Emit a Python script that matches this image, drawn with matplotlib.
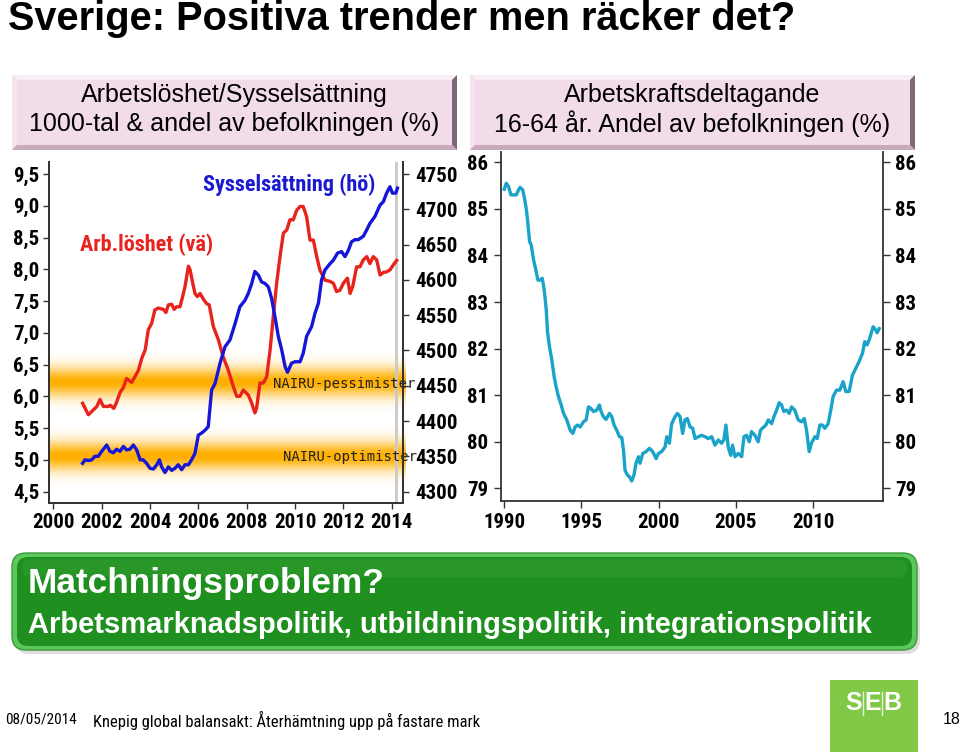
import numpy as np
import matplotlib
matplotlib.use('Agg')
import matplotlib.pyplot as plt
from matplotlib import font_manager as fm
from matplotlib.patches import Rectangle, Polygon, FancyBboxPatch

# ---------------- data ----------------
unemp_t = [2001.21, 2001.45, 2001.8, 2001.93, 2002.07, 2002.28, 2002.35, 2002.5, 2002.6, 2002.76,
           2002.9, 2003.03, 2003.24, 2003.38, 2003.52, 2003.66, 2003.8, 2003.93, 2004.07, 2004.2,
           2004.34, 2004.55, 2004.66, 2004.76, 2004.9, 2005.0, 2005.1, 2005.24, 2005.35, 2005.45,
           2005.59, 2005.66, 2005.77, 2005.86, 2005.96, 2006.07, 2006.21, 2006.34, 2006.45, 2006.62,
           2006.83, 2007.03, 2007.24, 2007.45, 2007.59, 2007.72, 2007.86, 2008.07, 2008.21, 2008.34,
           2008.41, 2008.55, 2008.69, 2008.83, 2008.97, 2009.1, 2009.24, 2009.38, 2009.52, 2009.66,
           2009.79, 2009.93, 2010.07, 2010.21, 2010.34, 2010.48, 2010.62, 2010.76, 2010.9, 2011.03,
           2011.24, 2011.45, 2011.59, 2011.72, 2011.86, 2012.0, 2012.17, 2012.28, 2012.39, 2012.55,
           2012.69, 2012.83, 2012.97, 2013.1, 2013.24, 2013.38, 2013.52, 2013.66, 2013.79, 2013.93,
           2014.07, 2014.21]
unemp_v = [5.89, 5.71, 5.84, 5.95, 5.84, 5.84, 5.86, 5.81, 5.89, 6.06,
           6.14, 6.28, 6.22, 6.31, 6.41, 6.60, 6.73, 7.05, 7.15, 7.36,
           7.39, 7.37, 7.32, 7.44, 7.45, 7.37, 7.41, 7.41, 7.57, 7.73,
           8.05, 7.99, 7.78, 7.62, 7.57, 7.62, 7.53, 7.46, 7.44, 7.10,
           6.89, 6.62, 6.41, 6.15, 6.00, 6.00, 6.10, 6.02, 5.89, 5.74,
           5.81, 6.21, 6.21, 6.31, 6.73, 7.25, 7.78, 8.20, 8.57, 8.62,
           8.78, 8.78, 8.93, 8.99, 8.99, 8.83, 8.46, 8.46, 8.20, 7.99,
           7.83, 7.81, 7.78, 7.65, 7.67, 7.78, 7.86, 7.62, 7.73, 8.04,
           8.04, 8.15, 8.20, 8.09, 8.20, 8.15, 7.91, 7.95, 7.96, 7.99,
           8.07, 8.14]

emp_t = [2001.21, 2001.31, 2001.45, 2001.59, 2001.72, 2001.86, 2002.0, 2002.21, 2002.34, 2002.48,
         2002.62, 2002.76, 2002.9, 2003.03, 2003.17, 2003.31, 2003.45, 2003.59, 2003.72, 2003.86,
         2004.0, 2004.14, 2004.28, 2004.39, 2004.48, 2004.62, 2004.76, 2004.9, 2005.03, 2005.17,
         2005.31, 2005.45, 2005.59, 2005.72, 2005.86, 2006.0, 2006.14, 2006.28, 2006.41, 2006.55,
         2006.69, 2006.9, 2007.1, 2007.31, 2007.52, 2007.72, 2007.93, 2008.07, 2008.21, 2008.34,
         2008.48, 2008.62, 2008.76, 2008.9, 2009.03, 2009.17, 2009.31, 2009.45, 2009.59, 2009.69,
         2009.86, 2010.0, 2010.21, 2010.34, 2010.48, 2010.69, 2010.83, 2010.97, 2011.1, 2011.24,
         2011.45, 2011.59, 2011.76, 2011.93, 2012.07, 2012.21, 2012.34, 2012.48, 2012.62, 2012.83,
         2012.97, 2013.1, 2013.31, 2013.52, 2013.66, 2013.79, 2013.93, 2014.03, 2014.17, 2014.24]
emp_v = [4340, 4345, 4344, 4345, 4350, 4350, 4357, 4366, 4357, 4355,
         4360, 4357, 4364, 4359, 4360, 4366, 4359, 4345, 4345, 4340,
         4333, 4332, 4338, 4345, 4335, 4327, 4335, 4330, 4333, 4338,
         4331, 4338, 4338, 4345, 4354, 4380, 4383, 4387, 4392, 4444,
         4453, 4482, 4505, 4515, 4538, 4562, 4571, 4581, 4595, 4612,
         4607, 4597, 4595, 4590, 4574, 4548, 4520, 4501, 4477, 4469,
         4482, 4484, 4484, 4496, 4520, 4534, 4553, 4567, 4600, 4614,
         4623, 4628, 4638, 4640, 4633, 4642, 4654, 4657, 4657, 4662,
         4671, 4680, 4690, 4706, 4711, 4723, 4732, 4723, 4723, 4730]

part_t = [1990.0, 1990.13, 1990.28, 1990.43, 1990.6, 1990.78, 1990.93, 1991.03, 1991.19, 1991.31,
          1991.42, 1991.51, 1991.64, 1991.75, 1991.9, 1992.0, 1992.18, 1992.33, 1992.46, 1992.59,
          1992.72, 1992.8, 1992.93, 1993.08, 1993.23, 1993.36, 1993.51, 1993.66, 1993.84, 1994.05,
          1994.27, 1994.44, 1994.59, 1994.74, 1994.91, 1995.13, 1995.3, 1995.45, 1995.6, 1995.78,
          1995.99, 1996.16, 1996.27, 1996.42, 1996.59, 1996.81, 1996.96, 1997.11, 1997.28, 1997.46,
          1997.61, 1997.72, 1997.82, 1997.97, 1998.1, 1998.25, 1998.4, 1998.53, 1998.69, 1998.79,
          1998.97, 1999.18, 1999.4, 1999.61, 1999.83, 1999.98, 2000.19, 2000.41, 2000.52, 2000.69,
          2000.84, 2001.06, 2001.21, 2001.38, 2001.55, 2001.7, 2001.85, 2002.03, 2002.2, 2002.35,
          2002.57, 2002.78, 2003.0, 2003.21, 2003.43, 2003.64, 2003.86, 2004.07, 2004.22, 2004.35,
          2004.5, 2004.66, 2004.78, 2004.94, 2005.15, 2005.37, 2005.52, 2005.69, 2005.86, 2006.01,
          2006.23, 2006.44, 2006.59, 2006.77, 2006.94, 2007.09, 2007.31, 2007.46, 2007.63, 2007.8,
          2007.95, 2008.1, 2008.28, 2008.45, 2008.6, 2008.81, 2009.03, 2009.25, 2009.42, 2009.57,
          2009.74, 2009.89, 2010.11, 2010.26, 2010.43, 2010.6, 2010.75, 2010.97, 2011.14, 2011.29,
          2011.51, 2011.72, 2011.94, 2012.11, 2012.33, 2012.54, 2012.76, 2012.97, 2013.19, 2013.34,
          2013.49, 2013.66, 2013.88, 2014.05, 2014.14, 2014.27]
part_v = [85.42, 85.55, 85.48, 85.30, 85.30, 85.30, 85.41, 85.46, 85.41, 85.23,
          85.01, 84.76, 84.30, 84.22, 83.90, 83.76, 83.47, 83.47, 83.51, 83.26,
          82.83, 82.36, 82.04, 81.76, 81.40, 81.18, 80.97, 80.82, 80.61, 80.47,
          80.25, 80.18, 80.32, 80.36, 80.32, 80.43, 80.47, 80.75, 80.72, 80.65,
          80.68, 80.79, 80.65, 80.54, 80.48, 80.61, 80.54, 80.36, 80.25, 80.11,
          80.09, 79.82, 79.39, 79.29, 79.25, 79.16, 79.29, 79.54, 79.68, 79.54,
          79.75, 79.79, 79.86, 79.79, 79.64, 79.75, 79.79, 79.89, 80.11, 79.97,
          80.39, 80.54, 80.61, 80.54, 80.18, 80.47, 80.50, 80.32, 80.29, 80.07,
          80.11, 80.14, 80.11, 80.07, 80.11, 79.93, 80.04, 79.97, 80.04, 80.36,
          79.89, 79.71, 79.93, 79.68, 79.75, 79.68, 80.11, 80.14, 80.00, 80.22,
          80.14, 80.00, 80.25, 80.31, 80.36, 80.47, 80.39, 80.54, 80.68, 80.84,
          80.79, 80.65, 80.68, 80.61, 80.75, 80.68, 80.47, 80.43, 80.50, 80.25,
          79.79, 79.97, 80.11, 80.07, 80.36, 80.36, 80.29, 80.39, 80.68, 80.97,
          81.11, 81.11, 81.29, 81.08, 81.08, 81.43, 81.58, 81.72, 81.90, 82.15,
          82.08, 82.22, 82.47, 82.40, 82.34, 82.43]

left_yticks = [4.5, 5.0, 5.5, 6.0, 6.5, 7.0, 7.5, 8.0, 8.5, 9.0, 9.5]
left_ylabels = ['4,5', '5,0', '5,5', '6,0', '6,5', '7,0', '7,5', '8,0', '8,5', '9,0', '9,5']
right_yticks = [4300, 4350, 4400, 4450, 4500, 4550, 4600, 4650, 4700, 4750]
left_xticks = [2000, 2002, 2004, 2006, 2008, 2010, 2012, 2014]
part_yticks = [79, 80, 81, 82, 83, 84, 85, 86]
part_xticks = [1990, 1995, 2000, 2005, 2010]
nairu_pess = 6.22
nairu_opt = 5.05

# ---------------- fonts ----------------
names = {f.name for f in fm.fontManager.ttflist}
COND = 'Roboto Condensed' if 'Roboto Condensed' in names else 'DejaVu Sans'
TICKFONT = dict(family=[COND, 'DejaVu Sans'], weight='bold')
ARIAL = ['Liberation Sans', 'DejaVu Sans']

W, H = 960, 752
fig = plt.figure(figsize=(W / 100, H / 100), dpi=100)
fig.patch.set_facecolor('white')

# background / decoration axes in pixel coordinates
bg = fig.add_axes([0, 0, 1, 1], zorder=0)
bg.set_xlim(0, W)
bg.set_ylim(H, 0)
bg.axis('off')

bg.text(8, 0.5, 'Sverige: Positiva trender men räcker det?', fontsize=28.6, fontweight='bold',
        family=ARIAL, va='top', ha='left', color='black')

def bevel_box(x0, y0, x1, y1, b=5):
    main = '#f2dcea'
    bg.add_patch(Rectangle((x0, y0), x1 - x0, y1 - y0, facecolor='#d8bccd', edgecolor='none'))
    bg.add_patch(Polygon([(x0, y0), (x1, y0), (x1 - b, y0 + b), (x0 + b, y0 + b)], closed=True,
                         facecolor='#f9eef5', edgecolor='none'))
    bg.add_patch(Polygon([(x0, y0), (x0 + b, y0 + b), (x0 + b, y1 - b), (x0, y1)], closed=True,
                         facecolor='#f5e4ef', edgecolor='none'))
    bg.add_patch(Polygon([(x1, y0), (x1, y1), (x1 - b, y1 - b), (x1 - b, y0 + b)], closed=True,
                         facecolor='#7d6a76', edgecolor='none'))
    bg.add_patch(Polygon([(x0, y1), (x1, y1), (x1 - b, y1 - b), (x0 + b, y1 - b)], closed=True,
                         facecolor='#c9aabd', edgecolor='none'))
    bg.add_patch(Rectangle((x0 + b, y0 + b), x1 - x0 - 2 * b, y1 - y0 - 2 * b,
                           facecolor=main, edgecolor='none'))

bevel_box(12, 75, 457, 150)
bevel_box(470, 75, 915, 150)
HS = 18
bg.text(234.5, 95, 'Arbetslöshet/Sysselsättning', fontsize=HS, family=ARIAL, ha='center', va='center')
bg.text(234.5, 124, '1000-tal & andel av befolkningen (%)', fontsize=HS, family=ARIAL, ha='center', va='center')
bg.text(692.5, 95, 'Arbetskraftsdeltagande', fontsize=HS, family=ARIAL, ha='center', va='center')
bg.text(692.5, 124, '16-64 år. Andel av befolkningen (%)', fontsize=HS, family=ARIAL, ha='center', va='center')

# green box
bg.add_patch(FancyBboxPatch((15, 557), 905, 97, boxstyle='round,pad=0,rounding_size=14',
                            facecolor='#c8c8c8', edgecolor='none', alpha=0.6))
bg.add_patch(FancyBboxPatch((12, 553), 905, 97, boxstyle='round,pad=0,rounding_size=14',
                            facecolor='#5cc85c', edgecolor='#3a9a3a', lw=1))
bg.add_patch(FancyBboxPatch((17, 557), 895, 89, boxstyle='round,pad=0,rounding_size=11',
                            facecolor='#1f8f1f', edgecolor='none'))
bg.add_patch(FancyBboxPatch((22, 559), 885, 18, boxstyle='round,pad=0,rounding_size=8',
                            facecolor='#34a234', edgecolor='none', alpha=0.45))
bg.text(28, 583, 'Matchningsproblem?', fontsize=25.4, fontweight='bold', family=ARIAL,
        color='white', ha='left', va='center')
bg.text(28, 625, 'Arbetsmarknadspolitik, utbildningspolitik, integrationspolitik', fontsize=21,
        fontweight='bold', family=ARIAL, color='white', ha='left', va='center')

# footer
FOOT = [COND, 'Liberation Sans']
bg.text(5, 720, '08/05/2014', fontsize=11, family=FOOT, ha='left', va='center')
bg.text(93, 720, 'Knepig global balansakt: Återhämtning upp på fastare mark', fontsize=11.9,
        family=FOOT, ha='left', va='center')
bg.text(943, 720, '18', fontsize=11.5, family=ARIAL, ha='left', va='center')

# SEB logo
bg.add_patch(Rectangle((830, 680), 88, 72, facecolor='#80c846', edgecolor='none'))
for ch, xc in [('S', 854), ('E', 872.5), ('B', 892.5)]:
    bg.text(xc, 703.5, ch, fontsize=18, fontweight='bold', family=ARIAL, color='white',
            ha='center', va='center')
for xl in [863.3, 881.7]:
    bg.plot([xl, xl], [692, 715], color='#e8f6dc', lw=1)

# ---------------- left chart ----------------
ax1 = fig.add_axes([49 / W, 1 - 503 / H, 354 / W, 341 / H], zorder=2)
ax1.set_facecolor('none')
x0, x1 = 1999.82, 2014.47
yl0, yl1 = 4.32, 9.69
ax1.set_xlim(x0, x1)
ax1.set_ylim(yl0, yl1)

orange = np.array([1.0, 0.69, 0.0])
yy = np.linspace(-0.5, 0.5, 200)
alpha = np.exp(-0.5 * (yy / 0.16) ** 2)
img = np.zeros((200, 2, 4))
img[..., :3] = orange
img[..., 3] = alpha[:, None]
for c in [nairu_pess, nairu_opt]:
    ax1.imshow(img, extent=[x0, x1 + 0.1, c - 0.5, c + 0.5], aspect='auto', zorder=0.5,
               origin='lower', interpolation='bilinear', clip_on=False)
ax1.set_xlim(x0, x1)
ax1.set_ylim(yl0, yl1)

ax1.axvline(2014.2, color='#c9c9c9', lw=2, zorder=0.8)
ax1.plot(unemp_t, unemp_v, color='#e8231c', lw=2.4, zorder=3, solid_joinstyle='round')

ax2 = ax1.twinx()
ax2.set_ylim(4300 + (yl0 - 4.5) * 90, 4300 + (yl1 - 4.5) * 90)
ax2.plot(emp_t, emp_v, color='#1616d6', lw=2.4, zorder=3, solid_joinstyle='round')

ax1.text(2006.19, 9.34, 'Sysselsättning (hö)', color='#1a1ad0', fontsize=16, ha='left',
         va='center', **TICKFONT)
ax1.text(2001.1, 8.38, 'Arb.löshet (vä)', color='#e8231c', fontsize=16, ha='left',
         va='center', **TICKFONT)
ax1.text(2009.1, 6.19, 'NAIRU-pessimister', family='DejaVu Sans Mono', fontsize=10,
         color='#222222', ha='left', va='center', zorder=4)
ax1.text(2009.5, 5.04, 'NAIRU-optimister', family='DejaVu Sans Mono', fontsize=10,
         color='#222222', ha='left', va='center', zorder=4)

for a in (ax1, ax2):
    a.spines['top'].set_visible(False)
    for s in ('left', 'right', 'bottom'):
        a.spines[s].set_color('#333333')
        a.spines[s].set_linewidth(1.3)

ax1.set_yticks(left_yticks, left_ylabels)
ax1.set_xticks(left_xticks, [str(v) for v in left_xticks])
ax2.set_yticks(right_yticks, [str(v) for v in right_yticks])
ax1.tick_params(axis='both', direction='out', length=4, width=1, color='#333333')
ax1.tick_params(axis='y', pad=3)
ax1.tick_params(axis='x', pad=3)
ax2.tick_params(axis='y', direction='out', length=4, width=1, color='#333333', pad=5)
for lab in ax1.get_xticklabels() + ax1.get_yticklabels() + ax2.get_yticklabels():
    lab.set_fontproperties(fm.FontProperties(size=15, **TICKFONT))

# ---------------- right chart ----------------
ax3 = fig.add_axes([501 / W, 1 - 501 / H, 382 / W, 349 / H], zorder=2)
ax3.set_facecolor('none')
ax3.set_xlim(1989.79, 2014.52)
ax3.set_ylim(78.73, 86.22)
ax3.plot(part_t, part_v, color='#1aa3c9', lw=2.4, solid_joinstyle='round')
ax3.spines['top'].set_visible(False)
for s in ('left', 'right', 'bottom'):
    ax3.spines[s].set_color('#333333')
    ax3.spines[s].set_linewidth(1.3)
ax3.set_yticks(part_yticks, [str(v) for v in part_yticks])
ax3.set_xticks(part_xticks, [str(v) for v in part_xticks])
ax3.tick_params(axis='both', direction='out', length=5, width=1, color='#333333')
ax3.tick_params(axis='y', left=True, right=True, labelleft=True, labelright=True, pad=4)
for t in ax3.yaxis.get_major_ticks() + ax3.xaxis.get_major_ticks():
    t.label1.set_fontproperties(fm.FontProperties(size=15, **TICKFONT))
    t.label2.set_fontproperties(fm.FontProperties(size=15, **TICKFONT))

fig.savefig('out.png', dpi=100, facecolor='white')
